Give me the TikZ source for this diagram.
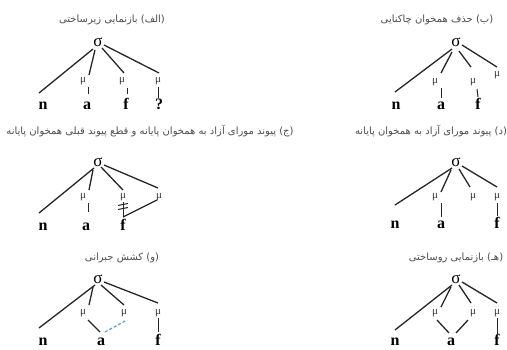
\documentclass[tikz,border=0pt]{standalone}
\usepackage{fontspec}
\setmainfont{Liberation Serif}
\newfontfamily\arabicfont[Script=Arabic]{DejaVu Sans}
\TeXXeTstate=1
\usetikzlibrary{calc}
\definecolor{dashblue}{HTML}{5B9BD5}
\begin{document}
\begin{tikzpicture}[x=1pt,y=-1pt,
  sig/.style={inner sep=0pt, font=\fontsize{17}{17}\selectfont, text height=7.5pt, text depth=0pt},
  mu/.style={inner sep=0pt, font=\fontsize{11}{11}\selectfont, text height=5pt, text depth=2pt, text=black!80},
  seg/.style={inner sep=0pt, font=\fontsize{16}{16}\selectfont\bfseries, text height=7.5pt, text depth=0pt},
  ttl/.style={inner sep=0pt, font=\arabicfont\fontsize{10}{12}\selectfont, text=black!70},
  ln/.style={line width=1.3pt, draw=black!85},
  vl/.style={line width=1pt, draw=black!85},
  dl/.style={line width=1.2pt, draw=dashblue, dash pattern=on 3pt off 2pt}
]
\useasboundingbox (0,0) rectangle (507,349);

% ---------- titles ----------
\node[ttl] (tA) at (112,20) {\beginR (الف) بازنمایی زیرساختی\endR};
\node[ttl] (tB) at (437,20) {\beginR (ب) حذف همخوان چاکنایی\endR};
\node[ttl] (tC) at (150,131) {\beginR (ج) پیوند مورای آزاد به همخوان پایانه و قطع پیوند قبلی همخوان پایانه\endR};
\node[ttl] (tD) at (431,131) {\beginR (د) پیوند مورای آزاد به همخوان پایانه\endR};
\node[ttl] (tE) at (122,258) {\beginR (و) کشش جبرانی\endR};
\node[ttl] (tF) at (456,258) {\beginR (هـ) بازنمایی روساختی\endR};

% ---------- tree A ----------
\node[sig] (sA) at (98,43) {σ};
\node[mu] (mA1) at (83,81) {μ};
\node[mu] (mA2) at (122,81) {μ};
\node[mu] (mA3) at (158,81) {μ};
\node[seg] (nA) at (43,106) {n};
\node[seg] (aA) at (87,106) {a};
\node[seg] (fA) at (126,106) {f};
\node[seg] (qA) at (159,106) {?};
\draw[ln] ($(sA)+(-5,6)$) -- ($(nA)+(-4,-13)$);
\draw[ln] ($(sA)+(-3,7)$) -- ($(mA1)+(6,-6)$);
\draw[ln] ($(sA)+(4,5)$) -- ($(mA2)+(2,-8)$);
\draw[ln] ($(sA)+(6,2)$) -- ($(mA3)+(1,-8)$);
\draw[vl] ($(mA1)+(5,6)$) -- ($(aA)+(1,-12)$);
\draw[vl] ($(mA2)+(5,7)$) -- ($(fA)+(1,-12)$);
\draw[vl] ($(mA3)+(0,6)$) -- ($(qA)+(-1,-8)$);

% ---------- tree B ----------
\node[sig] (sB) at (456,43) {σ};
\node[mu] (mB1) at (435,82) {μ};
\node[mu] (mB2) at (473,82) {μ};
\node[mu] (mB3) at (497,75) {μ};
\node[seg] (nB) at (396,106) {n};
\node[seg] (aB) at (441,106) {a};
\node[seg] (fB) at (478,106) {f};
\draw[ln] ($(sB)+(-4,6)$) -- ($(nB)+(-1,-14)$);
\draw[ln] ($(sB)+(-4,9)$) -- ($(mB1)+(6,-9)$);
\draw[ln] ($(sB)+(3,8)$) -- ($(mB2)+(-2,-15)$);
\draw[ln] ($(sB)+(6,2)$) -- ($(mB3)+(0,-8)$);
\draw[vl] ($(mB1)+(6,6)$) -- ($(aB)+(0,-8)$);
\draw[vl] ($(mB2)+(4,7)$) -- ($(fB)+(0,-9)$);

% ---------- tree C ----------
\node[sig] (sC) at (98,163) {σ};
\node[mu] (mC1) at (83,197) {μ};
\node[mu] (mC2) at (123,197) {μ};
\node[mu] (mC3) at (159,197) {μ};
\node[seg] (nC) at (43,227) {n};
\node[seg] (aC) at (86,227) {a};
\node[seg] (fC) at (123,227) {f};
\draw[ln] ($(sC)+(-4,5)$) -- ($(nC)+(-4,-14)$);
\draw[ln] ($(sC)+(-5,7)$) -- ($(mC1)+(6,-7)$);
\draw[ln] ($(sC)+(3,4)$) -- ($(mC2)+(0,-7)$);
\draw[ln] ($(sC)+(6,2)$) -- ($(mC3)+(-1,-9)$);
\draw[vl] ($(mC1)+(5,6)$) -- ($(aC)+(2,-15)$);
\draw[vl] ($(mC2)+(0,5)$) -- ($(fC)+(0,-10)$);
\draw[ln] ($(mC3)+(-2,3)$) -- ($(fC)+(0,-10)$);
\draw[vl] ($(mC2)+(-5,8.5)$) -- ($(mC2)+(5,6.5)$);
\draw[vl] ($(mC2)+(-5,12.5)$) -- ($(mC2)+(5,10.5)$);

% ---------- tree D ----------
\node[sig] (sD) at (456,163) {σ};
\node[mu] (mD1) at (435,197) {μ};
\node[mu] (mD2) at (473,197) {μ};
\node[mu] (mD3) at (497,197) {μ};
\node[seg] (nD) at (395,225) {n};
\node[seg] (aD) at (441,225) {a};
\node[seg] (fD) at (497,225) {f};
\draw[ln] ($(sD)+(-4,5)$) -- ($(nD)+(0,-20)$);
\draw[ln] ($(sD)+(-5,7)$) -- ($(mD1)+(6,-5)$);
\draw[ln] ($(sD)+(3,6)$) -- ($(mD2)+(-3,-10)$);
\draw[ln] ($(sD)+(6,3)$) -- ($(mD3)+(0,-10)$);
\draw[vl] ($(mD1)+(6,6)$) -- ($(aD)+(0,-8)$);
\draw[vl] ($(mD3)+(0,6)$) -- ($(fD)+(0,-9)$);

% ---------- tree E ----------
\node[sig] (sE) at (98,280) {σ};
\node[mu] (mE1) at (83,313) {μ};
\node[mu] (mE2) at (124,313) {μ};
\node[mu] (mE3) at (158,313) {μ};
\node[seg] (nE) at (43,342) {n};
\node[seg] (aE) at (101,342) {a};
\node[seg] (fE) at (158,342) {f};
\draw[ln] ($(sE)+(-3,5)$) -- ($(nE)+(-4,-14)$);
\draw[ln] ($(sE)+(-5,7)$) -- ($(mE1)+(6,-8)$);
\draw[ln] ($(sE)+(3,5)$) -- ($(mE2)+(0,-8)$);
\draw[ln] ($(sE)+(6,2)$) -- ($(mE3)+(0,-10)$);
\draw[ln] ($(mE1)+(5,7)$) -- ($(aE)+(-1,-10)$);
\draw[dl] ($(aE)+(4,-10)$) -- ($(mE2)+(3,7)$);
\draw[vl] ($(mE3)+(0,5)$) -- ($(fE)+(0,-10)$);

% ---------- tree F ----------
\node[sig] (sF) at (456,280) {σ};
\node[mu] (mF1) at (435,313) {μ};
\node[mu] (mF2) at (473,313) {μ};
\node[mu] (mF3) at (497,313) {μ};
\node[seg] (nF) at (395,342) {n};
\node[seg] (aF) at (451,342) {a};
\node[seg] (fF) at (497,342) {f};
\draw[ln] ($(sF)+(-4,5)$) -- ($(nF)+(0,-12)$);
\draw[ln] ($(sF)+(-5,7)$) -- ($(mF1)+(6,-6)$);
\draw[ln] ($(sF)+(3,5)$) -- ($(mF2)+(-2,-10)$);
\draw[ln] ($(sF)+(6,2)$) -- ($(mF3)+(0,-10)$);
\draw[ln] ($(mF1)+(2,7)$) -- ($(aF)+(-2,-9)$);
\draw[ln] ($(aF)+(5,-9)$) -- ($(mF2)+(-5,7)$);
\draw[vl] ($(mF3)+(0,5)$) -- ($(fF)+(0,-7)$);
\end{tikzpicture}
\end{document}
